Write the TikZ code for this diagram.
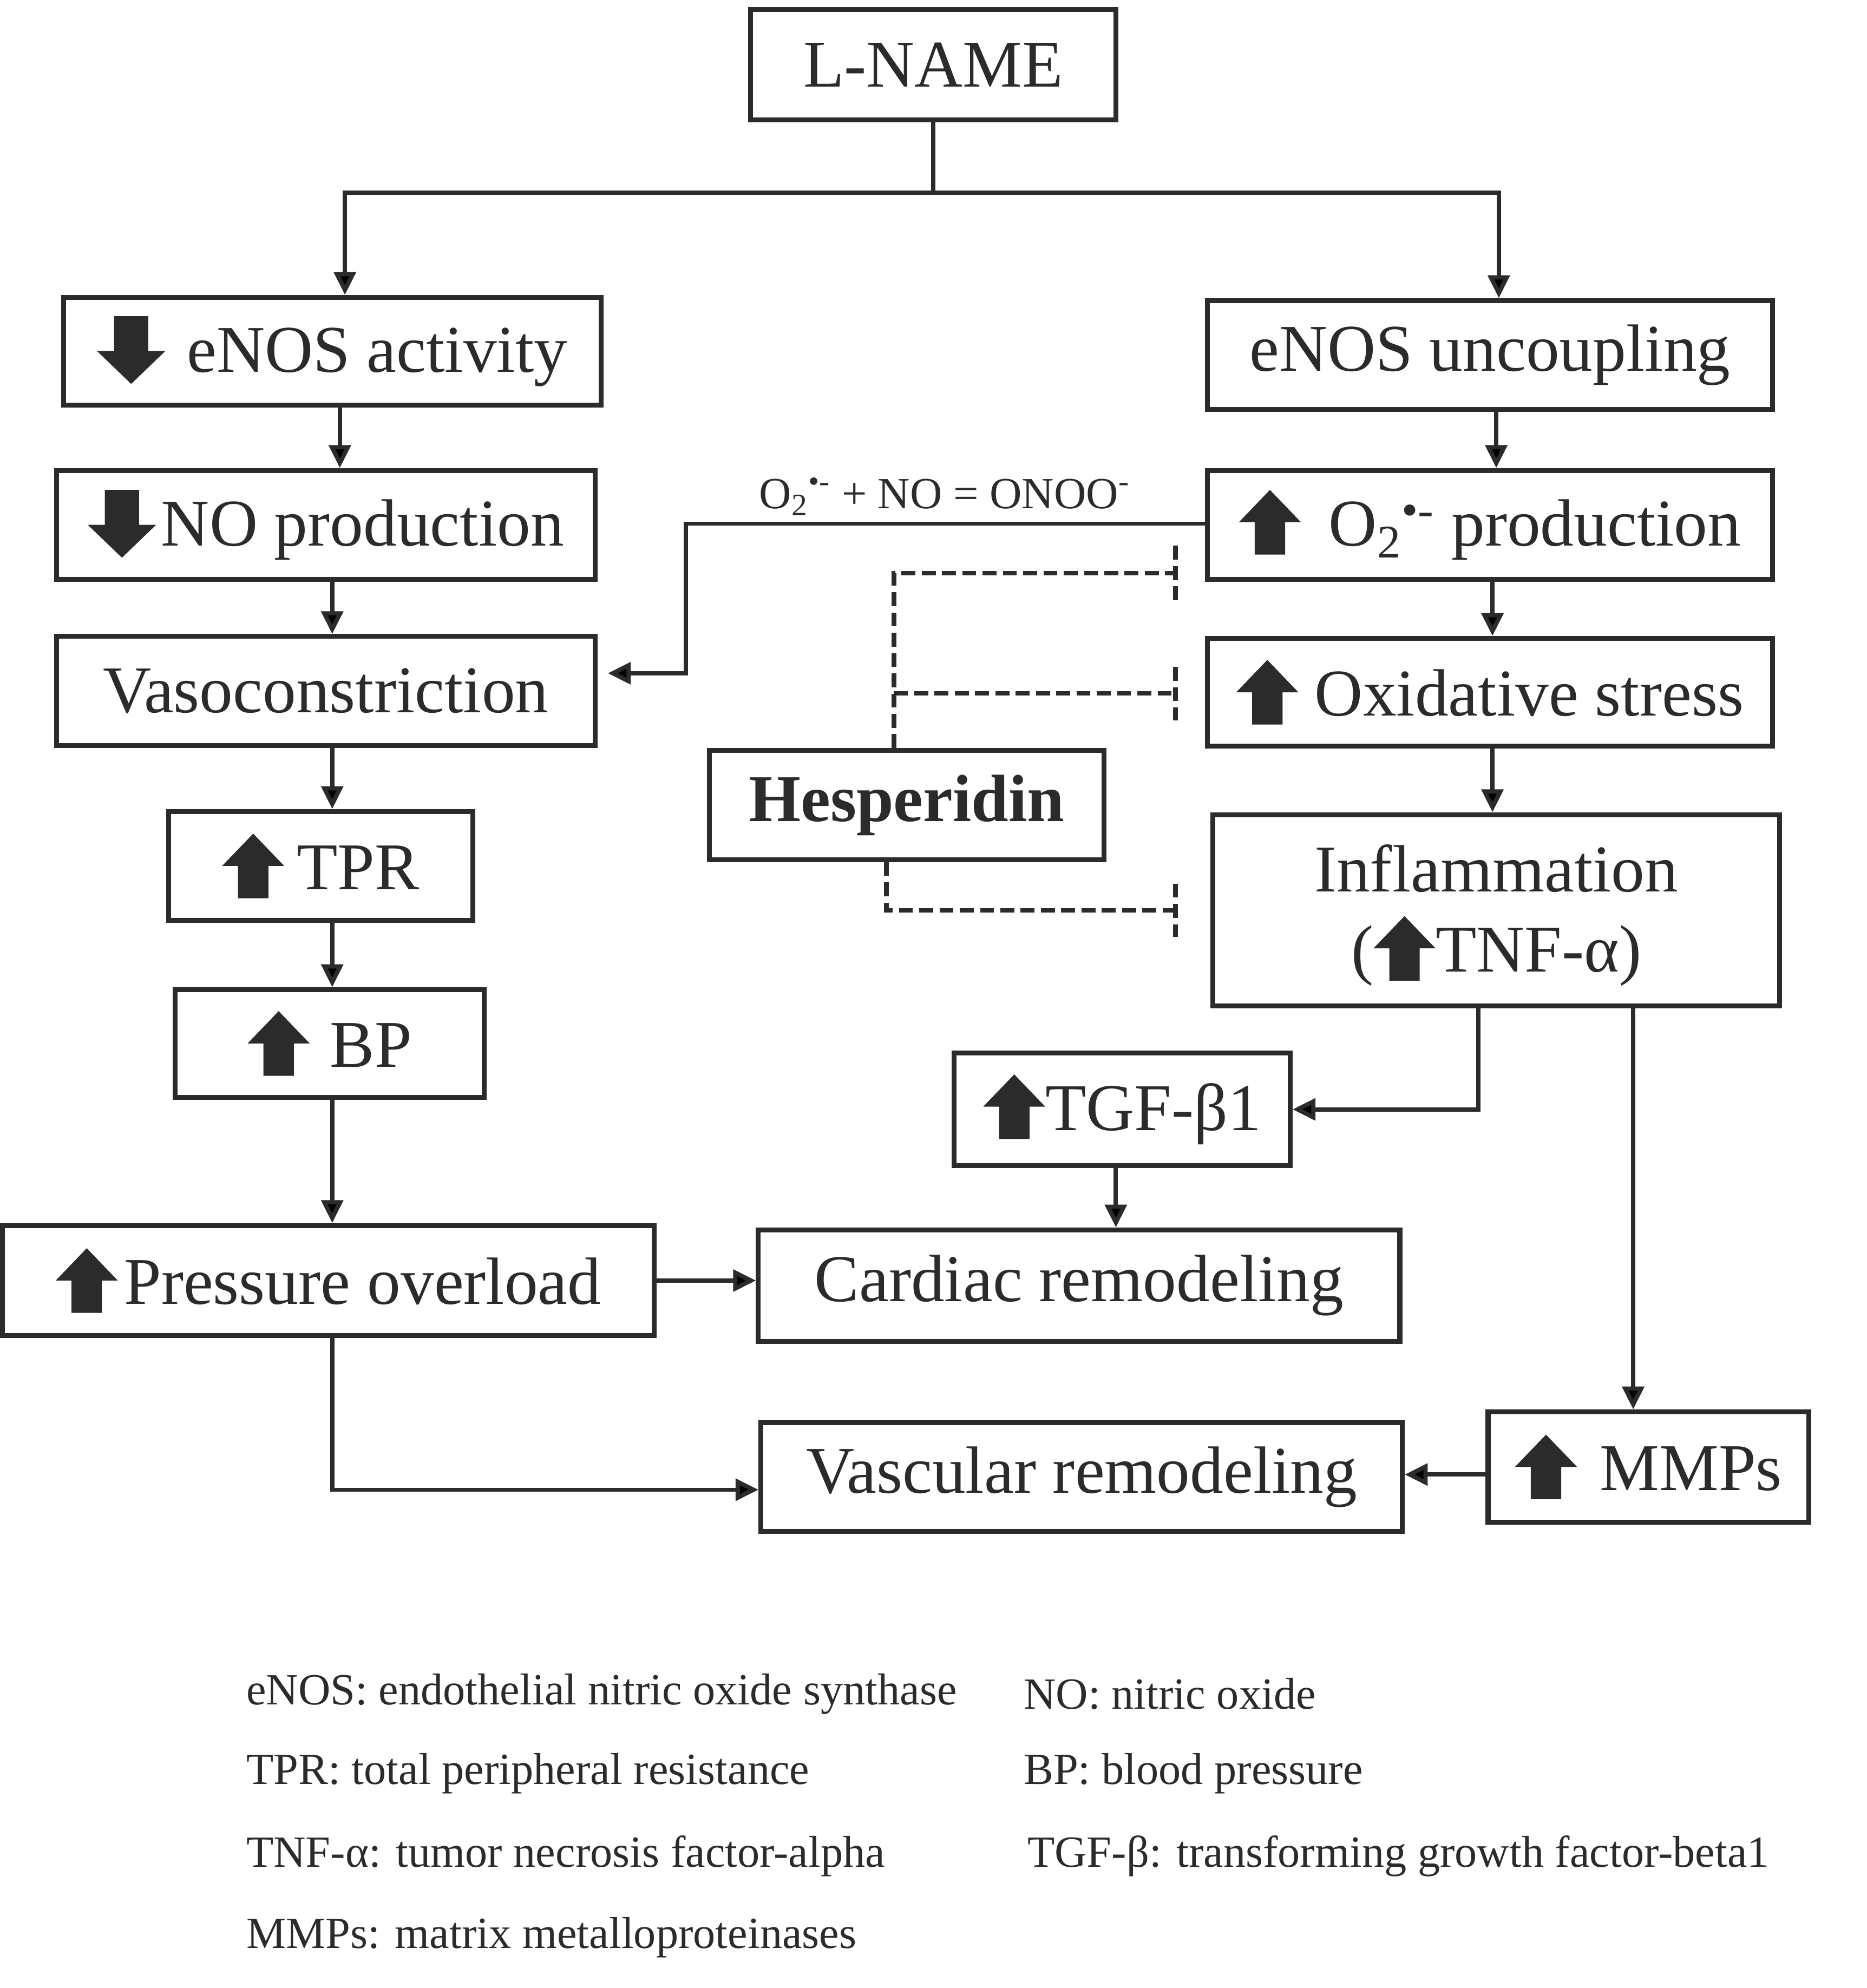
\documentclass[tikz,border=0pt]{standalone}
\usepackage{fontspec}
\setmainfont{Liberation Serif}
\usetikzlibrary{arrows.meta}
\usetikzlibrary{positioning}
\usetikzlibrary{calc}
\definecolor{ink}{HTML}{2B2B2B}
\newcommand{\uparrowbox}{\tikz[baseline=0pt]\fill[ink] (0.25cm,-0.14cm) -- (0.73cm,-0.14cm) -- (0.73cm,0.37cm) -- (0.98cm,0.37cm) -- (0.49cm,0.88cm) -- (0cm,0.37cm) -- (0.25cm,0.37cm) -- cycle;}
\newcommand{\downarrowbox}{\tikz[baseline=0pt]\fill[ink] (0.27cm,0.88cm) -- (0.81cm,0.88cm) -- (0.81cm,0.33cm) -- (1.08cm,0.33cm) -- (0.54cm,-0.19cm) -- (0cm,0.33cm) -- (0.27cm,0.33cm) -- cycle;}
\tikzset{
	block/.style={draw=ink, line width=2.2pt, text=ink, inner sep=0pt, font=\fontsize{30}{36}\selectfont},
	link/.style={draw=ink, line width=1.9pt, -{Triangle[length=0.36cm,width=0.34cm]}},
	plainlink/.style={draw=ink, line width=1.9pt},
	blocker/.style={draw=ink, line width=2pt, dash pattern=on 0.22cm off 0.1cm},
	legend/.style={text=ink, anchor=west, inner sep=0pt, font=\fontsize{20}{24}\selectfont},
}
\begin{document}
\begin{tikzpicture}[x=0.02cm, y=-0.02cm]
		\useasboundingbox (0,0) rectangle (1472,1568);
		\node[block, minimum width=5.76cm, minimum height=1.74cm] (lname) at (736,51) {L-NAME};
		\node[block, minimum width=8.48cm, minimum height=1.7cm] (enosact) at (262,277) {\downarrowbox\hspace{0.34cm}eNOS activity\hspace{0.3cm}};
		\node[block, minimum width=8.92cm, minimum height=1.72cm] (enosunc) at (1175,280) {eNOS uncoupling};
		\node[block, minimum width=8.5cm, minimum height=1.72cm] (noprod) at (257,414) {\downarrowbox\hspace{0.08cm}NO production\hspace{0.1cm}};
		\node[block, minimum width=8.92cm, minimum height=1.72cm] (o2prod) at (1175,414) {\uparrowbox\hspace{0.44cm}O\textsubscript{2}\textsuperscript{•-} production\hspace{0.3cm}};
		\node[block, minimum width=8.5cm, minimum height=1.72cm] (vaso) at (257,545) {Vasoconstriction};
		\node[block, minimum width=8.92cm, minimum height=1.7cm] (oxstress) at (1175,546) {\uparrowbox\hspace{0.26cm}Oxidative stress\hspace{0.2cm}};
		\node[block, minimum width=4.8cm, minimum height=1.72cm] (tpr) at (253,683) {\uparrowbox\hspace{0.2cm}TPR};
		\node[block, minimum width=6.22cm, minimum height=1.72cm] (hesp) at (715,635) {\bfseries Hesperidin};
		\node[block, minimum width=8.94cm, minimum height=3.02cm, align=center] (inflam) at (1180,718) {\rule{0pt}{0.9cm}Inflammation\\(\uparrowbox TNF-α)};
		\node[block, minimum width=4.88cm, minimum height=1.7cm] (bp) at (260,823) {\uparrowbox\hspace{0.32cm}BP};
		\node[block, minimum width=5.3cm, minimum height=1.78cm] (tgf) at (885,875) {\uparrowbox TGF-β1};
		\node[block, minimum width=10.28cm, minimum height=1.74cm] (pressure) at (259,1010) {\uparrowbox\hspace{0.1cm}Pressure overload};
		\node[block, minimum width=10.12cm, minimum height=1.76cm] (cardiac) at (851,1014) {Cardiac remodeling};
		\node[block, minimum width=10.12cm, minimum height=1.72cm] (vascular) at (853,1165) {Vascular remodeling};
		\node[block, minimum width=5.06cm, minimum height=1.74cm] (mmps) at (1300,1157) {\uparrowbox\hspace{0.36cm}MMPs};

		\coordinate (split) at (736,152);
		\draw[plainlink] (lname.south) -- (split);
		\draw[link] (split) -| ([xshift=0.2cm]enosact.north);
		\draw[link] (split) -| ([xshift=0.14cm]enosunc.north);

		\draw[link] ([xshift=0.12cm]enosact.south) -- ([xshift=0.12cm]enosact.south |- noprod.north);
		\draw[link] ([xshift=0.1cm]noprod.south) -- ([xshift=0.1cm]noprod.south |- vaso.north);
		\draw[link] ([xshift=0.1cm]vaso.south) -- ([xshift=0.1cm]vaso.south |- tpr.north);
		\draw[link] ([xshift=0.18cm]tpr.south) -- ([xshift=0.18cm]tpr.south |- bp.north);
		\draw[link] ([xshift=0.04cm]bp.south) -- ([xshift=0.04cm]bp.south |- pressure.north);
		\draw[link] (pressure.east) -- (pressure.east -| cardiac.west);
		\draw[link] ([xshift=0.06cm]pressure.south) |- ([yshift=-0.2cm]vascular.west);
		\draw[link] ([yshift=-0.12cm]mmps.west) -- ([yshift=-0.12cm]mmps.west -| vascular.east);

		\draw[link] ([xshift=0.1cm]enosunc.south) -- ([xshift=0.1cm]enosunc.south |- o2prod.north);
		\draw[link] ([xshift=0.04cm]o2prod.south) -- ([xshift=0.04cm]o2prod.south |- oxstress.north);
		\draw[link] ([xshift=0.04cm]oxstress.south) -- ([xshift=0.04cm]oxstress.south |- inflam.north);
		\draw[link] ([xshift=-0.28cm]inflam.south) |- (tgf.east);
		\draw[link] ([xshift=2.16cm]inflam.south) -- ([xshift=2.16cm]inflam.south |- mmps.north);
		\draw[link] ([xshift=-0.1cm]tgf.south) -- ([xshift=-0.1cm]tgf.south |- cardiac.north);

		\coordinate (bend) at (541,413);
		\draw[link, shorten >=0.16cm] ([yshift=0.02cm]o2prod.west) -- (bend) |- ([yshift=0.28cm]vaso.east);
		\node[text=ink, anchor=base, inner sep=0pt, font=\fontsize{20}{24}\selectfont] (reaction) at (745,401) {O\textsubscript{2}\textsuperscript{•-} + NO = ONOO\textsuperscript{-}};

		\coordinate (bar1) at (927,452);
		\coordinate (bar2) at (927,547);
		\coordinate (bar3) at (927,718);
		\coordinate (hjoin) at (705,547);
		\draw[blocker] ([xshift=-0.2cm]hesp.north) |- (bar1);
		\draw[blocker] (hjoin) -- (bar2);
		\draw[blocker] ([xshift=-0.32cm]hesp.south) |- (bar3);
		\draw[blocker] ([yshift=0.43cm]bar1) -- ([yshift=-0.43cm]bar1);
		\draw[blocker] ([yshift=0.42cm]bar2) -- ([yshift=-0.42cm]bar2);
		\draw[blocker] ([yshift=0.42cm]bar3) -- ([yshift=-0.42cm]bar3);

		\node[legend] (keyenos) at (194,1336) {eNOS: endothelial nitric oxide synthase};
		\node[legend] (keyno) at (807,1336) {NO: nitric oxide};
		\node[legend] (keytpr) at (194,1399) {TPR: total peripheral resistance};
		\node[legend] (keybp) at (807,1399) {BP: blood pressure};
		\node[legend] (keytnf) at (194,1464) {TNF-α: tumor necrosis factor-alpha};
		\node[legend] (keytgf) at (810,1464) {TGF-β: transforming growth factor-beta1};
		\node[legend] (keymmp) at (194,1528) {MMPs: matrix metalloproteinases};
\end{tikzpicture}
\end{document}
